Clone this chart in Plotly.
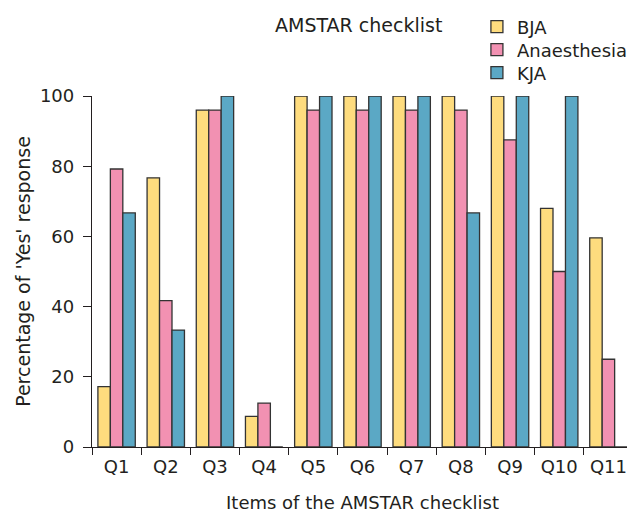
import plotly.graph_objects as go

categories = ["Q1", "Q2", "Q3", "Q4", "Q5", "Q6", "Q7", "Q8", "Q9", "Q10", "Q11"]
bja = [17.2, 76.7, 96, 8.7, 100, 100, 100, 100, 100, 68, 59.6]
anaesthesia = [79.2, 41.7, 96, 12.5, 96, 96, 96, 96, 87.5, 50, 25]
kja = [66.7, 33.3, 100, 0, 100, 100, 100, 66.7, 100, 100, 0]
y_ticks = [0, 20, 40, 60, 80, 100]

series = [
    ("BJA", bja, "#FEDC7E", "legend"),
    ("Anaesthesia", anaesthesia, "#F291B2", "legend2"),
    ("KJA", kja, "#5BA8C5", "legend3"),
]

fig = go.Figure()
for name, vals, color, leg in series:
    fig.add_trace(go.Bar(
        x=categories, y=vals, name=name, legend=leg, showlegend=True,
        marker=dict(color=color, line=dict(color="#333333", width=1.3)),
    ))

font_family = "DejaVu Sans, Arial, sans-serif"
text_color = "#231F20"

def leg(y):
    return dict(
        x=0.7115, xanchor="left", y=y, yanchor="middle",
        font=dict(size=18), itemwidth=30,
        bgcolor="rgba(0,0,0,0)", visible=True,
    )

fig.update_layout(
    width=627, height=505,
    margin=dict(l=84, r=2, t=88, b=66, autoexpand=False),
    plot_bgcolor="white", paper_bgcolor="white",
    barmode="group", bargap=0.24, bargroupgap=0,
    showlegend=True,
    font=dict(family=font_family, color=text_color, size=18),
    legend=leg(1.1966),
    legend2=leg(1.1311),
    legend3=leg(1.0655),
    annotations=[dict(
        text="AMSTAR checklist", x=0.334, y=1.2009, xref="paper", yref="paper",
        xanchor="left", yanchor="middle", showarrow=False,
        font=dict(size=19, color=text_color),
    )],
    xaxis=dict(
        showline=True, linecolor="#231F20", linewidth=1.3,
        ticks="outside", ticklen=7, tickwidth=1.3, tickcolor="#231F20",
        tickson="boundaries", tickangle=0, automargin=False,
        ticklabelstandoff=3,
        tickfont=dict(size=18),
        title=dict(text="Items of the AMSTAR checklist", font=dict(size=18), standoff=20),
        showgrid=False, zeroline=False,
    ),
    yaxis=dict(
        range=[0, 100], automargin=False,
        tickvals=y_ticks,
        showline=True, linecolor="#231F20", linewidth=1.3,
        ticks="outside", ticklen=8, tickwidth=1.3, tickcolor="#231F20",
        ticklabelstandoff=5,
        tickfont=dict(size=18),
        title=dict(text="Percentage of 'Yes' response", font=dict(size=19), standoff=4),
        showgrid=False, zeroline=False,
    ),
)

fig.write_html("out.html")
